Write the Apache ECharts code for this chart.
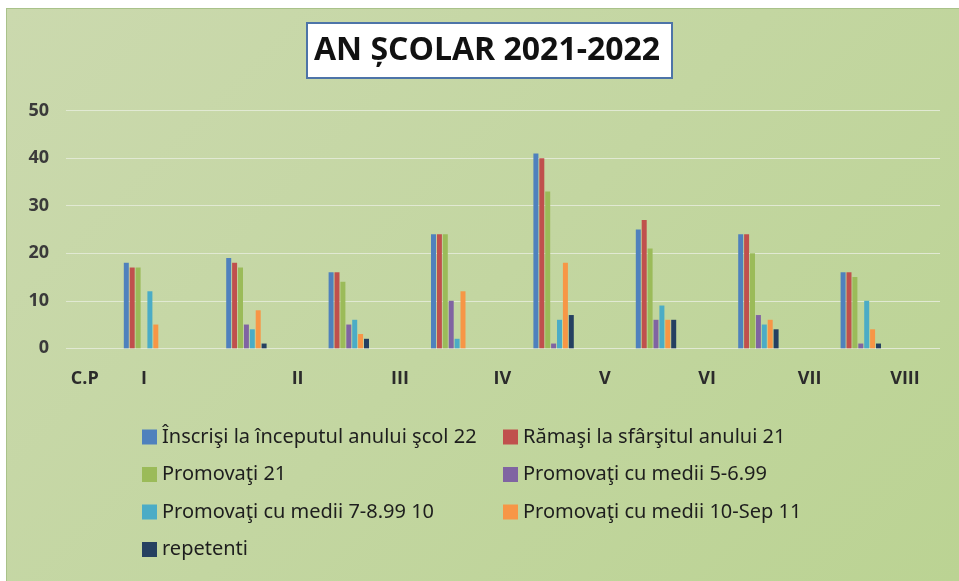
<!DOCTYPE html>
<html>
<head>
<meta charset="utf-8">
<title>AN ȘCOLAR 2021-2022</title>
<script src="https://cdn.jsdelivr.net/npm/echarts@6/dist/echarts.min.js"></script>
<style>
  html, body { margin: 0; padding: 0; background: #fff; }
  #wrap { position: relative; width: 959px; height: 581px; overflow: hidden; }
  #bg {
    position: absolute; left: 6px; top: 8px; right: 0; bottom: 0;
    border-left: 1px solid #a9c28a; border-top: 1px solid #a9c28a;
    background: linear-gradient(135deg, #cbd9ae 0%, #c3d6a1 50%, #bbd393 100%);
  }
  #chart { position: absolute; left: 0; top: 0; width: 959px; height: 581px; }
</style>
</head>
<body>
<div id="wrap">
  <div id="bg"></div>
  <div id="chart"></div>
</div>
<script>
// clasele cu bare (C.P nu are date)
const clase = ['I', 'II', 'III', 'IV', 'V', 'VI', 'VII', 'VIII'];

// etichetele de pe axa X si pozitia lor (in unitati de clasa)
const xLabels = ['C.P', 'I', 'II', 'III', 'IV', 'V', 'VI', 'VII', 'VIII'];
const xLabelTicks = [-0.5, 0, 1.5, 2.5, 3.5, 4.5, 5.5, 6.5, 7.5];

const yTicks = [0, 10, 20, 30, 40, 50];

const inscrisi = [18, 19, 16, 24, 41, 25, 24, 16];
const ramasi = [17, 18, 16, 24, 40, 27, 24, 16];
const promovati = [17, 17, 14, 24, 33, 21, 20, 15];
const medii5 = [0, 5, 5, 10, 1, 6, 7, 1];
const medii7 = [12, 4, 6, 2, 6, 9, 5, 10];
const medii10 = [5, 8, 3, 12, 18, 6, 6, 4];
const repetenti = [0, 1, 2, 0, 7, 6, 4, 1];

const seriesNames = [
  'Înscrişi la începutul anului şcol 22',
  'Rămaşi la sfârşitul anului 21',
  'Promovaţi 21',
  'Promovaţi cu medii 5-6.99',
  'Promovaţi cu medii 7-8.99 10',
  'Promovaţi cu medii 10-Sep 11',
  'repetenti'
];
const seriesData = [inscrisi, ramasi, promovati, medii5, medii7, medii10, repetenti];
const colors = ['#4f81bd', '#c0504d', '#9bbb59', '#8064a2', '#4bacc6', '#f79646', '#254061'];

const labelMap = {};
xLabelTicks.forEach((t, i) => { labelMap[t] = xLabels[i]; });

const chart = echarts.init(document.getElementById('chart'));

const legendText = {
  fontFamily: 'Noto Sans',
  fontSize: 20,
  lineHeight: 20,
  color: '#1e1e1e'
};

const axisFont = {
  fontFamily: 'Open Sans',
  fontWeight: 'bold',
  fontSize: 18,
  color: '#2b2b2b'
};

const option = {
  animation: false,
  color: colors,
  title: {
    text: 'AN ȘCOLAR 2021-2022',
    left: 307,
    top: 23,
    padding: [9, 12, 9, 7],
    backgroundColor: '#fff',
    borderColor: '#4d74a8',
    borderWidth: 2,
    textStyle: {
      fontFamily: 'Open Sans',
      fontWeight: 'bold',
      fontSize: 32,
      lineHeight: 37,
      color: '#111'
    }
  },
  legend: [
    {
      data: [seriesNames[0], seriesNames[2], seriesNames[4], seriesNames[6]],
      orient: 'vertical',
      left: 137,
      top: 422,
      icon: 'rect',
      itemWidth: 15,
      itemHeight: 15,
      itemGap: 17.5,
      textStyle: legendText
    },
    {
      data: [seriesNames[1], seriesNames[3], seriesNames[5]],
      orient: 'vertical',
      left: 498,
      top: 422,
      icon: 'rect',
      itemWidth: 15,
      itemHeight: 15,
      itemGap: 17.5,
      textStyle: legendText
    }
  ],
  grid: [
    // grila cu liniile orizontale
    { left: 66, right: 19, top: 110.7, bottom: 232.7 },
    // grila pentru bare
    { left: 92.8, right: 47, top: 110.7, bottom: 232.7 }
  ],
  xAxis: [
    { type: 'category', gridIndex: 0, data: clase, show: false },
    { type: 'category', gridIndex: 1, data: clase, show: false },
    {
      type: 'value',
      gridIndex: 1,
      min: -0.5,
      max: 7.5,
      interval: 0.5,
      position: 'bottom',
      axisLine: { show: false },
      axisTick: { show: false },
      splitLine: { show: false },
      axisLabel: Object.assign({
        margin: 22,
        showMinLabel: true,
        showMaxLabel: true,
        formatter: (v) => {
          const t = labelMap[v] || '';
          // primele/ultimele etichete sunt putin deplasate spre stanga in original
          if (v === -0.5) return '{cp|' + t + '}';
          if (v === 7.5) return '{end|' + t + '}';
          return t;
        },
        rich: {
          cp: Object.assign({ padding: [0, 16, 0, 0] }, axisFont),
          end: Object.assign({ padding: [0, 14, 0, 0] }, axisFont)
        }
      }, axisFont)
    }
  ],
  yAxis: [
    {
      type: 'value',
      gridIndex: 0,
      min: yTicks[0],
      max: yTicks[yTicks.length - 1],
      interval: 10,
      axisLine: { show: false },
      axisTick: { show: false },
      axisLabel: Object.assign({ margin: 17 }, axisFont, { color: '#3a3a3a' }),
      splitLine: { lineStyle: { color: '#e1e9d3', width: 1 } }
    },
    {
      type: 'value',
      gridIndex: 1,
      min: yTicks[0],
      max: yTicks[yTicks.length - 1],
      show: false
    }
  ],
  series: seriesNames.map((name, i) => ({
    name: name,
    type: 'bar',
    xAxisIndex: 1,
    yAxisIndex: 1,
    data: seriesData[i],
    barWidth: 5,
    barGap: '18%'
  }))
};

chart.setOption(option);
</script>
</body>
</html>
